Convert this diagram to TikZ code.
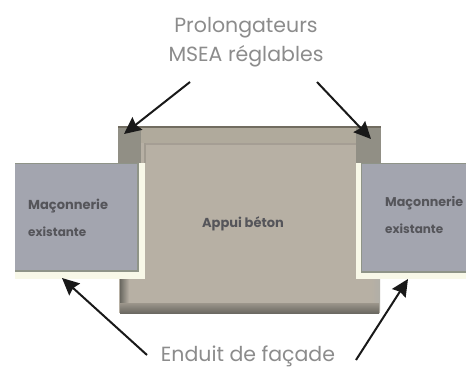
\documentclass[tikz,border=0pt]{standalone}
\usepackage{fontspec}
\setmainfont{Poppins}
\usetikzlibrary{arrows.meta}
\definecolor{betonc}{HTML}{B7B0A4}
\definecolor{bandc}{HTML}{B0AA9C}
\definecolor{edgec}{HTML}{716C60}
\definecolor{bevelc}{HTML}{8F8C82}
\definecolor{murc}{HTML}{A3A5AF}
\definecolor{murb}{HTML}{8F9488}
\definecolor{progc}{HTML}{918F85}
\definecolor{enduitc}{HTML}{F8F8E8}
\definecolor{labelc}{HTML}{8C8C8C}
\definecolor{innerc}{HTML}{55555A}
\tikzset{
  x=1pt,y=-1pt,
  lbl/.style={text=labelc,font=\fontsize{20.5}{23}\selectfont,inner sep=0pt,align=center},
  inner text/.style={text=innerc,font=\bfseries\fontsize{13}{16}\selectfont,inner sep=0pt,anchor=west},
  small text/.style={inner text,font=\bfseries\fontsize{12}{15}\selectfont},
  pointer/.style={draw=black!90,line width=2pt,-{Stealth[length=17pt,width=16pt,inset=2pt]}},
}
\begin{document}
\begin{tikzpicture}
\useasboundingbox (0,0) rectangle (466,367);
\fill[white] (0,0) rectangle (466,367);
% appui beton
\fill[betonc] (119,126) rectangle (380,313);
\fill[bandc] (119,128) rectangle (380,143);
\fill[edgec] (119,126) rectangle (380,128);
\shade[left color=bevelc!75!black,right color=betonc] (120,270) rectangle (129,310);
\shade[left color=betonc,right color=bevelc!70!white] (371,270) rectangle (380,310);
\shade[top color=betonc!85!black,bottom color=bevelc!75!black] (120,303) rectangle (379,313);
\fill[betonc!90!black] (145,143) rectangle (357,145);
\fill[betonc!88!black] (144,143) rectangle (146,163);
% prolongateurs
\fill[progc] (118,126) rectangle (141,163);
\fill[progc] (356,126) rectangle (381,163);
\fill[edgec] (118,126) rectangle (141,128);
\fill[edgec] (356,126) rectangle (381,128);
% enduit
\fill[enduitc] (15,163) rectangle (145,279);
\fill[enduitc] (356,163) rectangle (466,279);
% murs
\fill[murb] (15,163) rectangle (139,272);
\fill[murc] (15,164) rectangle (137,270);
\fill[murb] (361,163) rectangle (466,273);
\fill[murc] (362,164) rectangle (466,271);
% textes
\node[lbl,anchor=base] (prol) at (246,32) {Prolongateurs};
\node[lbl,anchor=base] (msea) at (246,61) {MSEA réglables};
\node[lbl,anchor=base] (enduit) at (248,361) {Enduit de façade};
\node[inner text] (m1) at (28,206) {Maçonnerie};
\node[small text] (e1) at (28,232) {existante};
\node[inner text,font=\bfseries\fontsize{12.7}{16}\selectfont] (m2) at (385,203) {Maçonnerie};
\node[small text] (e2) at (385,229) {existante};
\node[inner text,anchor=center] (a) at (243,224) {Appui béton};
% extremites des fleches
\coordinate (s1) at (190,82);
\coordinate (t1) at (124,134);
\coordinate (s2) at (317,82);
\coordinate (t2) at (371,139);
\coordinate (s3) at (147,355);
\coordinate (t3) at (62,278);
\coordinate (s4) at (356,360);
\coordinate (t4) at (408,279);
\draw[pointer] (s1) -- (t1);
\draw[pointer] (s2) -- (t2);
\draw[pointer] (s3) -- (t3);
\draw[pointer] (s4) -- (t4);
\end{tikzpicture}
\end{document}
